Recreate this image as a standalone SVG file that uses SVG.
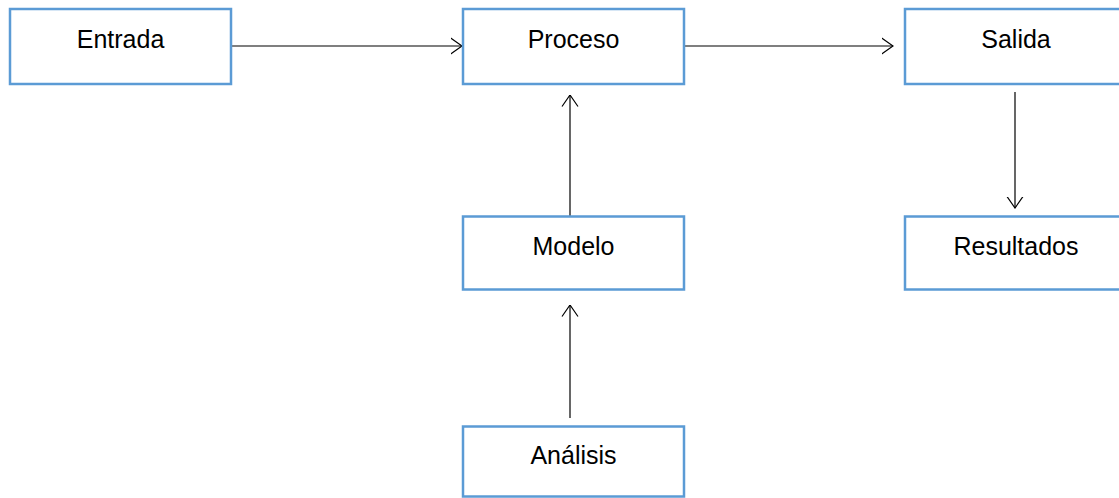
<svg xmlns="http://www.w3.org/2000/svg" width="1119" height="498" viewBox="0 0 1119 498">
<style>
.box{fill:#fff;stroke:#5B9BD5;stroke-width:2.5}
.lbl{font-family:"Liberation Sans",Arial,sans-serif;font-size:25px;fill:#000;text-anchor:middle}
.con{stroke:#000;stroke-width:1.2;fill:none}
</style>
<defs>
<marker id="arr" viewBox="0 0 12 18" refX="11.5" refY="9" markerWidth="12" markerHeight="18" markerUnits="userSpaceOnUse" orient="auto">
<path d="M0,1 L11.5,9 L0,17" fill="none" stroke="#000" stroke-width="1.2"/>
</marker>
</defs>
<rect width="1119" height="498" fill="#fff"/>
<g id="connectors">
<line class="con" x1="231" y1="46" x2="462" y2="46" marker-end="url(#arr)"/>
<line class="con" x1="684" y1="46" x2="893" y2="46" marker-end="url(#arr)"/>
<line class="con" x1="1015" y1="92" x2="1015" y2="208" marker-end="url(#arr)"/>
<line class="con" x1="570" y1="216" x2="570" y2="95" marker-end="url(#arr)"/>
<line class="con" x1="570" y1="418" x2="570" y2="305" marker-end="url(#arr)"/>
</g>
<g id="entrada"><rect class="box" x="10" y="9" width="221" height="75"/><text class="lbl" x="120.5" y="48">Entrada</text></g>
<g id="proceso"><rect class="box" x="463" y="9" width="221" height="75"/><text class="lbl" x="573.5" y="48">Proceso</text></g>
<g id="salida"><rect class="box" x="905" y="9" width="222" height="75"/><text class="lbl" x="1016" y="48">Salida</text></g>
<g id="modelo"><rect class="box" x="463" y="216.5" width="221" height="73"/><text class="lbl" x="573.5" y="255">Modelo</text></g>
<g id="resultados"><rect class="box" x="905" y="216.5" width="222" height="73"/><text class="lbl" x="1016" y="255">Resultados</text></g>
<g id="analisis"><rect class="box" x="463" y="426.5" width="221" height="70"/><text class="lbl" x="573.5" y="464">Análisis</text></g>
</svg>
